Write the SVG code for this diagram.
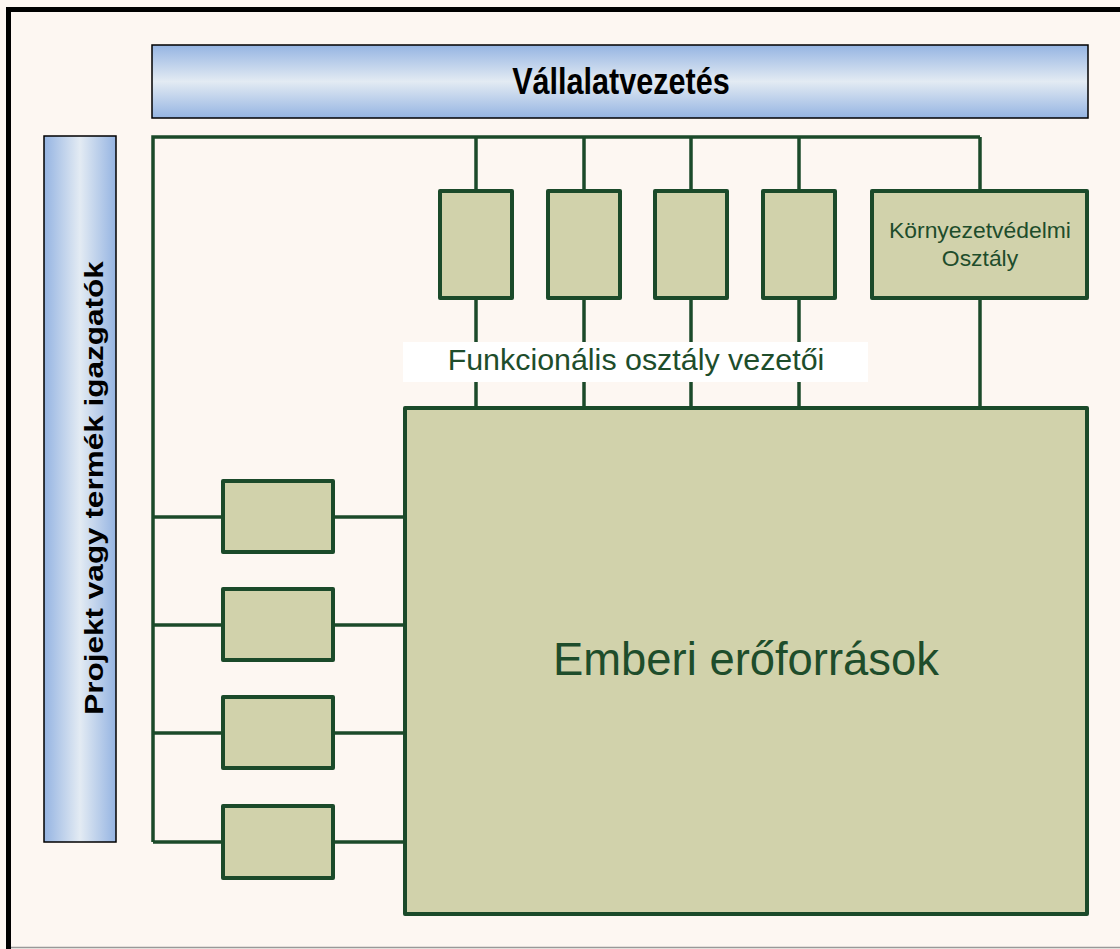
<svg xmlns="http://www.w3.org/2000/svg" width="1120" height="949" viewBox="0 0 1120 949">
  <defs>
    <linearGradient id="barV" x1="0" y1="0" x2="0" y2="1">
      <stop offset="0" stop-color="#95B4E2"/>
      <stop offset="0.5" stop-color="#E3EBF3"/>
      <stop offset="1" stop-color="#95B4E2"/>
    </linearGradient>
    <linearGradient id="barH" x1="0" y1="0" x2="1" y2="0">
      <stop offset="0" stop-color="#95B4E2"/>
      <stop offset="0.5" stop-color="#E3EBF3"/>
      <stop offset="1" stop-color="#95B4E2"/>
    </linearGradient>
    <style>
      .bar { stroke: #000; stroke-width: 1.5; }
      .barText { font-family: "Liberation Sans", Arial, sans-serif; font-weight: bold; fill: #000; }
      .unit { fill: #D1D2AB; stroke: #1B4A2A; stroke-width: 4; stroke-linejoin: round; }
      .wire { fill: none; stroke: #1B4A2A; stroke-width: 3.5; }
      .label { font-family: "Liberation Sans", Arial, sans-serif; fill: #1E4D2B; }
    </style>
  </defs>

  <!-- page background and frame -->
  <rect x="0" y="0" width="1120" height="949" fill="#FDF7F2"/>
  <line x1="8.5" y1="7" x2="8.5" y2="949" stroke="#000" stroke-width="5"/>
  <line x1="6" y1="9.5" x2="1120" y2="9.5" stroke="#000" stroke-width="5"/>
  <line x1="11" y1="947.5" x2="1120" y2="947.5" stroke="#999" stroke-width="1.5"/>

  <!-- connectors -->
  <g id="connectors">
    <polyline class="wire" points="153,842 153,137 980,137"/>
    <line class="wire" x1="476" y1="137" x2="476" y2="408"/>
    <line class="wire" x1="584" y1="137" x2="584" y2="408"/>
    <line class="wire" x1="691" y1="137" x2="691" y2="408"/>
    <line class="wire" x1="799" y1="137" x2="799" y2="408"/>
    <line class="wire" x1="980" y1="137" x2="980" y2="408"/>
    <line class="wire" x1="153" y1="517" x2="405" y2="517"/>
    <line class="wire" x1="153" y1="625" x2="405" y2="625"/>
    <line class="wire" x1="153" y1="733" x2="405" y2="733"/>
    <line class="wire" x1="153" y1="842" x2="405" y2="842"/>
  </g>

  <!-- top management bar -->
  <g id="vallalatvezetes">
    <rect class="bar" x="152" y="45" width="936" height="73" fill="url(#barV)"/>
    <text class="barText" font-size="30.6" transform="translate(621,94) scale(1,1.2)" text-anchor="middle">Vállalatvezetés</text>
  </g>

  <!-- project directors bar -->
  <g id="projekt-igazgatok">
    <rect class="bar" x="44" y="136" width="72" height="706" fill="url(#barH)"/>
    <text class="barText" font-size="25.4" transform="translate(103,488) rotate(-90) scale(1.24,1)" text-anchor="middle">Projekt vagy termék igazgatók</text>
  </g>

  <!-- functional departments -->
  <g id="osztaly-1"><rect class="unit" x="440" y="191" width="72" height="107"/></g>
  <g id="osztaly-2"><rect class="unit" x="548" y="191" width="72" height="107"/></g>
  <g id="osztaly-3"><rect class="unit" x="655" y="191" width="72" height="107"/></g>
  <g id="osztaly-4"><rect class="unit" x="763" y="191" width="72" height="107"/></g>
  <g id="kornyezetvedelmi">
    <rect class="unit" x="872" y="191" width="215" height="107"/>
    <text class="label" font-size="22.9" text-anchor="middle" x="980" y="238">Környezetvédelmi</text>
    <text class="label" font-size="22.9" text-anchor="middle" x="980" y="266">Osztály</text>
  </g>

  <!-- functional heads label -->
  <g id="funkcionalis-label">
    <rect x="403" y="342" width="465" height="40" fill="#FFFFFF"/>
    <text class="label" font-size="30.4" text-anchor="middle" x="636" y="370">Funkcionális osztály vezetői</text>
  </g>

  <!-- human resources -->
  <g id="emberi-eroforrasok">
    <rect class="unit" x="405" y="408" width="682" height="506"/>
    <text class="label" font-size="45.4" text-anchor="middle" x="746" y="675">Emberi erőforrások</text>
  </g>

  <!-- project units -->
  <g id="projekt-1"><rect class="unit" x="223" y="481" width="110" height="71"/></g>
  <g id="projekt-2"><rect class="unit" x="223" y="589" width="110" height="71"/></g>
  <g id="projekt-3"><rect class="unit" x="223" y="697" width="110" height="71"/></g>
  <g id="projekt-4"><rect class="unit" x="223" y="806" width="110" height="72"/></g>
</svg>
